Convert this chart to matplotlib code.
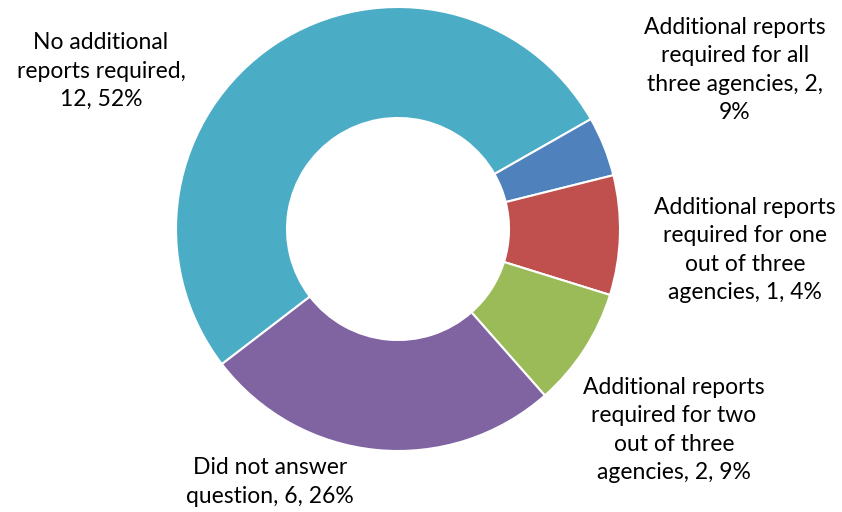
import matplotlib
matplotlib.use("Agg")
from matplotlib import pyplot as plt

# slice data, clockwise from the left edge of the big slice
categories = ["No additional reports required",
              "Additional reports required for all three agencies",
              "Additional reports required for one out of three agencies",
              "Additional reports required for two out of three agencies",
              "Did not answer question"]
counts = [12, 1, 2, 2, 6]
colors = ["#4BACC6", "#4F81BD", "#C0504D", "#9BBB59", "#8064A2"]

# data label texts as printed on the chart
label_texts = ["No additional\nreports required,\n12, 52%",
               "Additional reports\nrequired for all\nthree agencies, 2,\n9%",
               "Additional reports\nrequired for one\nout of three\nagencies, 1, 4%",
               "Additional reports\nrequired for two\nout of three\nagencies, 2, 9%",
               "Did not answer\nquestion, 6, 26%"]

# label block centres in pixels (x from left, y from top)
label_pos = [(101, 71), (735, 70), (745, 250), (674, 430), (270, 482)]

W, H = 842, 512
fig = plt.figure(figsize=(W/100, H/100), dpi=100)

cx, cy, r = 398, 229, 222
ax = fig.add_axes([(cx-r)/W, (H-cy-r)/H, 2*r/W, 2*r/H])
ax.pie(counts, colors=colors, startangle=217.5, counterclock=False,
       radius=1, wedgeprops=dict(width=0.5, edgecolor='white', linewidth=1.5))
ax.set_xlim(-1, 1)
ax.set_ylim(-1, 1)
ax.set_aspect('equal')
ax.axis('off')

for txt, (px, py) in zip(label_texts, label_pos):
	fig.text(px/W, 1-py/H, txt, ha='center', va='center', multialignment='center',
	         fontsize=16.5, family='Lato', color='black', linespacing=1.45)

plt.savefig("out.png", dpi=100)
